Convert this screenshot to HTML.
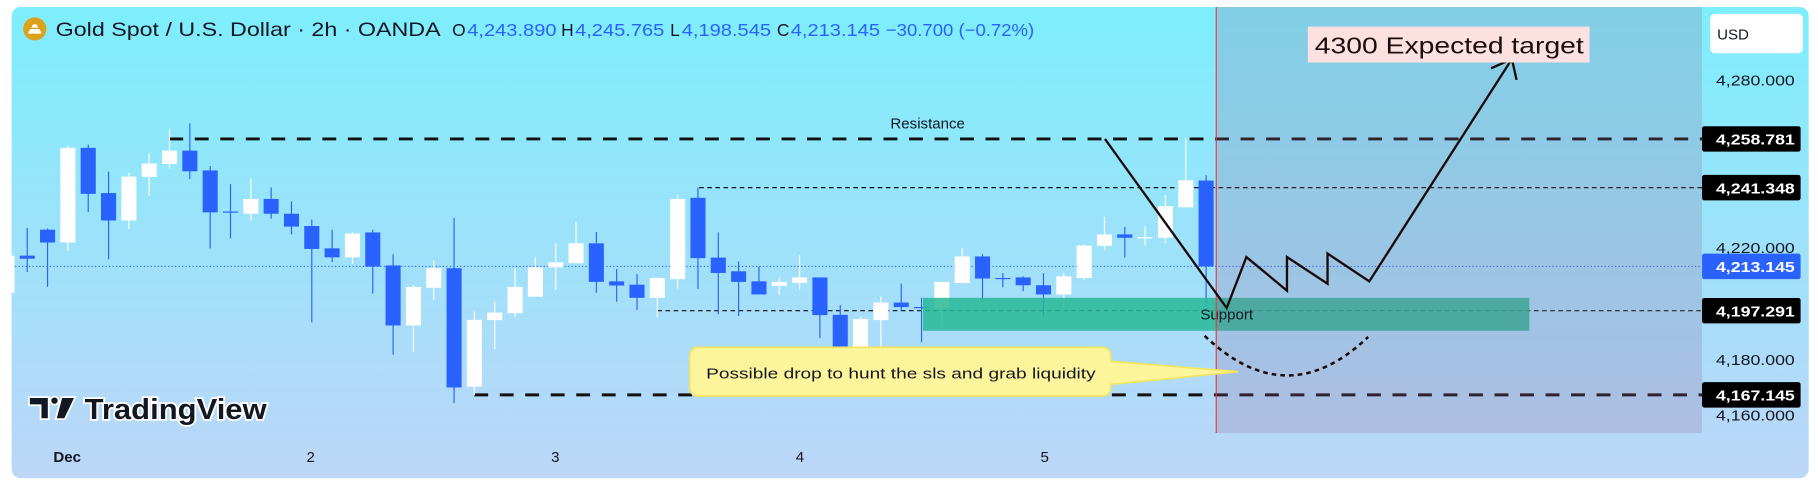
<!DOCTYPE html>
<html><head><meta charset="utf-8"><style>
html,body{margin:0;padding:0;background:#fff;}
svg{display:block;font-family:"Liberation Sans","DejaVu Sans",sans-serif;}
</style></head><body>
<svg id="chart" width="1818" height="484" viewBox="0 0 1568 418" preserveAspectRatio="none" xmlns="http://www.w3.org/2000/svg">
<defs>
<linearGradient id="bg" x1="0" y1="0" x2="0" y2="1"><stop offset="0" stop-color="#7deefc"/><stop offset="1" stop-color="#bdd6f8"/></linearGradient>
<clipPath id="plotclip"><rect x="10" y="6" width="1458" height="407"/></clipPath>
</defs>
<rect x="0" y="0" width="1568" height="418" fill="#fff"/>
<rect x="10" y="6" width="1550" height="407" rx="8" fill="url(#bg)"/>
<g id="grid"></g>
<g id="candles" clip-path="url(#plotclip)"></g>
<g id="zone"></g>
<g id="shade"></g>
<g id="annot"></g>
<g id="axis"></g>
<g>
<circle cx="30" cy="25" r="10" fill="#d9a21a"/>
<path d="M24 29 h12 l-2 -4 h-8z M27 24 h6 l-1.5 -3 h-3z" fill="#fff"/>
<text x="48" y="31" font-size="17" fill="#131722" textLength="332" lengthAdjust="spacingAndGlyphs">Gold Spot / U.S. Dollar · 2h · OANDA</text>
<text y="31" font-size="15" fill="#2962ff"><tspan x="390" fill="#131722">O</tspan><tspan x="403" textLength="77" lengthAdjust="spacingAndGlyphs">4,243.890</tspan><tspan x="484" fill="#131722">H</tspan><tspan x="496" textLength="77" lengthAdjust="spacingAndGlyphs">4,245.765</tspan><tspan x="578" fill="#131722">L</tspan><tspan x="588" textLength="77" lengthAdjust="spacingAndGlyphs">4,198.545</tspan><tspan x="670" fill="#131722">C</tspan><tspan x="682" textLength="77" lengthAdjust="spacingAndGlyphs">4,213.145</tspan><tspan x="764" textLength="128" lengthAdjust="spacingAndGlyphs">−30.700 (−0.72%)</tspan></text>
</g>
<g>
<path d="M25 343 h17 v19 h-7 v-12 h-10z" fill="#131722" stroke="#fff" stroke-width="1.5"/>
<circle cx="47" cy="346" r="3.5" fill="#131722" stroke="#fff" stroke-width="1.5"/>
<path d="M53 343 h12 l-9 19 h-8z" fill="#131722" stroke="#fff" stroke-width="1.5"/>
<text x="73" y="362" font-size="25" font-weight="bold" fill="#131722" stroke="#fff" stroke-width="3" paint-order="stroke" textLength="157" lengthAdjust="spacingAndGlyphs">TradingView</text>
</g>
<g font-size="13" fill="#131722">
<text x="58" y="399" text-anchor="middle" font-weight="bold">Dec</text>
<text x="268" y="399" text-anchor="middle">2</text>
<text x="479" y="399" text-anchor="middle">3</text>
<text x="690" y="399" text-anchor="middle">4</text>
<text x="901" y="399" text-anchor="middle">5</text>
</g>
<g>
<rect x="1475" y="12" width="80" height="34" rx="4" fill="#fff"/>
<text x="1481" y="34" font-size="13" fill="#131722">USD</text>
</g>
</svg>
<script>
const opens  = [4203.7,4217.0,4226.3,4221.7,4255.6,4239.4,4229.6,4245.2,4249.8,4254.6,4247.5,4232.8,4232.0,4237.3,4232.0,4227.6,4219.6,4216.4,4225.3,4213.5,4192.0,4205.5,4212.5,4170.1,4193.9,4196.4,4202.3,4212.8,4214.3,4221.4,4207.8,4206.6,4201.9,4208.6,4237.7,4216.3,4211.4,4207.8,4206.2,4207.2,4209.2,4195.8,4181.2,4193.9,4200.2,4198.6,4198.2,4207.2,4216.7,4209.0,4209.2,4206.4,4203.1,4209.0,4220.5,4224.6,4223.4,4223.4,4234.3,4243.89];
const highs  = [4217.5,4226.9,4226.7,4256.4,4256.8,4247.1,4246.7,4253.6,4262.3,4264.4,4249.1,4242.6,4244.6,4241.4,4236.4,4229.9,4226.3,4225.5,4226.3,4217.5,4206.4,4215.3,4230.5,4197.0,4200.5,4212.5,4216.3,4221.4,4229.1,4225.5,4212.2,4210.4,4209.2,4238.7,4241.4,4225.3,4214.9,4213.1,4209.2,4217.1,4209.2,4199.3,4195.1,4202.3,4207.0,4201.9,4207.6,4219.6,4217.5,4210.7,4209.6,4210.7,4210.7,4221.0,4230.8,4227.3,4227.5,4238.7,4259.1,4245.765];
const lows   = [4203.0,4211.1,4205.8,4218.7,4232.6,4215.7,4226.5,4238.5,4248.2,4244.4,4219.6,4223.2,4229.6,4230.2,4224.6,4193.1,4214.7,4214.1,4203.4,4181.5,4182.5,4201.1,4164.2,4167.0,4183.5,4194.9,4202.3,4204.8,4214.3,4203.7,4200.5,4197.5,4194.9,4205.2,4205.1,4196.0,4195.4,4203.1,4203.1,4204.9,4187.5,4175.4,4179.2,4184.3,4197.2,4186.0,4191.9,4206.9,4200.2,4205.7,4204.3,4195.1,4197.2,4208.4,4219.0,4216.3,4220.6,4221.4,4234.3,4198.545];
const closes = [4217.0,4215.9,4221.7,4255.6,4239.1,4229.6,4245.3,4250.0,4254.6,4247.2,4232.5,4232.5,4237.3,4232.0,4227.4,4219.4,4216.4,4224.9,4213.1,4192.0,4205.8,4212.5,4169.8,4194.0,4196.6,4205.8,4212.8,4214.6,4221.4,4207.6,4206.3,4201.9,4209.0,4237.3,4216.1,4210.8,4207.6,4203.1,4207.6,4209.2,4195.7,4181.2,4194.3,4200.2,4198.6,4198.4,4207.6,4216.7,4208.8,4208.8,4206.4,4203.1,4209.6,4220.6,4224.6,4223.4,4223.6,4234.7,4244.0,4213.145];
const priceTicks = [4280, 4220, 4200, 4180, 4160];
const tickLabels = ["4,280.000","4,220.000","4,200.000","4,180.000","4,160.000"];
const levelPrices = [4258.781, 4241.348, 4213.145, 4197.291, 4167.145];
const levelLabels = ["4,258.781","4,241.348","4,213.145","4,197.291","4,167.145"];

const NS = "http://www.w3.org/2000/svg";
function x(i){ return 5.97 + i*17.53; }
function y(p){ return 120 + (4258.781 - p)*2.412; }
function mk(tag, attrs, parent){ const e=document.createElementNS(NS,tag); for(const k in attrs) e.setAttribute(k,attrs[k]); parent.appendChild(e); return e; }
const gS=document.getElementById('shade'), gZ=document.getElementById('zone'), gG=document.getElementById('grid'), gC=document.getElementById('candles'), gA=document.getElementById('annot'), gX=document.getElementById('axis');

// level lines
let res = mk('line',{x1:146,x2:1468,y1:y(levelPrices[0]),y2:y(levelPrices[0]),stroke:'#111','stroke-width':2.5,'stroke-dasharray':'12 10'},gG);


let l2 = mk('line',{x1:603,x2:1468,y1:y(levelPrices[1]),y2:y(levelPrices[1]),stroke:'#111','stroke-width':1,'stroke-dasharray':'4 3'},gG);


let cur = mk('line',{x1:10,x2:1468,y1:y(levelPrices[2]),y2:y(levelPrices[2]),stroke:'#2962ff','stroke-width':1,'stroke-dasharray':'1 2'},gG);


let l4 = mk('line',{x1:567,x2:1468,y1:y(levelPrices[3]),y2:y(levelPrices[3]),stroke:'#111','stroke-width':1,'stroke-dasharray':'4 3'},gG);


let l5 = mk('line',{x1:409,x2:1468,y1:y(levelPrices[4]),y2:y(levelPrices[4]),stroke:'#111','stroke-width':2.5,'stroke-dasharray':'12 10'},gG);


let rt = mk('text',{x:768,y:111,'font-size':13,fill:'#131722'},gG); rt.textContent='Resistance';



// candles
for(let i=0;i<opens.length;i++){
  const up = closes[i]>=opens[i];
  const col = up ? '#ffffff' : '#2962ff';
  const g = mk('g',{},gC);
  
  
  mk('line',{x1:x(i),x2:x(i),y1:y(highs[i]),y2:y(lows[i]),stroke:col,'stroke-width':1},g);
  const top=y(Math.max(opens[i],closes[i])), bot=y(Math.min(opens[i],closes[i]));
  mk('rect',{x:x(i)-6.5,y:top,width:13,height:Math.max(1,bot-top),fill:col},g);
}

// support zone
let sz = mk('rect',{x:796,y:y(4201.9),width:523,height:y(4190.1)-y(4201.9),fill:'rgba(40,185,150,0.85)'},gZ);



// shaded forecast zone (over support zone)
let sh = mk('rect',{x:1049,y:6,width:419,height:368,fill:'rgba(140,100,150,0.22)'},gS);



let st = mk('text',{x:1058,y:276,'font-size':13,fill:'#131722','text-anchor':'middle'},gA); st.textContent='Support';


// red time line
let rl = mk('line',{x1:1049,x2:1049,y1:6,y2:374,stroke:'#f23645','stroke-width':1},gA);


// forecast path
let fp = mk('polyline',{points:'953,120 1058,266 1075,222 1110,251 1110,222 1145,245 1145,219 1181,243 1304,51',fill:'none',stroke:'#1a0a0a','stroke-width':2,'stroke-linejoin':'miter'},gA);


let ah = mk('polyline',{points:'1286,59 1304,51 1308,69',fill:'none',stroke:'#1a0a0a','stroke-width':2},gA);


let dc = mk('path',{d:'M1039 290 Q1110 358 1180 291',fill:'none',stroke:'#1a0a0a','stroke-width':2.2,'stroke-dasharray':'4 3.5'},gA);


// callout
let co = mk('path',{d:'M603 300 H950 Q958 300 958 308 V312 L1068 321 L958 332 V334 Q958 342 950 342 H603 Q595 342 595 334 V308 Q595 300 603 300 Z',fill:'#fdf59c',stroke:'#f3e560','stroke-width':1.5},gA);


let ct = mk('text',{x:609,y:327,'font-size':13,fill:'#131722',textLength:336,lengthAdjust:'spacingAndGlyphs'},gA); ct.textContent='Possible drop to hunt the sls and grab liquidity';


// target label
let tb = mk('rect',{x:1128,y:23,width:243,height:31,fill:'#fde1e1'},gA);


let tt = mk('text',{x:1134,y:46,'font-size':20,fill:'#1a0d0d',textLength:232,lengthAdjust:'spacingAndGlyphs'},gA); tt.textContent='4300 Expected target';



// price axis ticks
for(let k=0;k<priceTicks.length;k++){
  const t = mk('text',{x:1548,y:y(priceTicks[k])+5,'font-size':13,fill:'#131722','text-anchor':'end',textLength:68,lengthAdjust:'spacingAndGlyphs'},gX);
  t.textContent = tickLabels[k];
  
  
}
for(let k=0;k<levelPrices.length;k++){
  const g = mk('g',{},gX);
  
  
  mk('rect',{x:1468,y:y(levelPrices[k])-11,width:85,height:22,rx:2,fill:k===2?'#2962ff':'#000'},g);
  const t = mk('text',{x:1548,y:y(levelPrices[k])+5,'font-size':13,'font-weight':'bold',fill:'#fff','text-anchor':'end',textLength:68,lengthAdjust:'spacingAndGlyphs'},g);
  t.textContent = levelLabels[k];
}
</script>
</body></html>
